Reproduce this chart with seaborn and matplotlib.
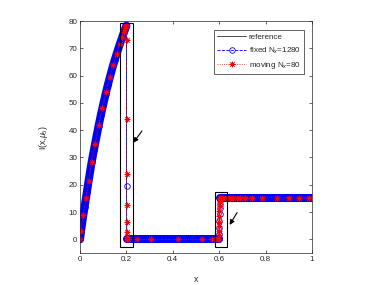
import numpy as np
import pandas as pd
import matplotlib
matplotlib.use("Agg")
import matplotlib.pyplot as plt
from matplotlib.patches import Rectangle
import seaborn as sns

# ── 데이터 ─────────────────────────────────────────────
# fixed N_x=1280 : 구간별로 나눔
fixed_ramp_x = [0.0, 0.005, 0.01, 0.02, 0.03, 0.04, 0.05, 0.06, 0.07, 0.08, 0.09, 0.10,
                0.11, 0.12, 0.13, 0.14, 0.15, 0.16, 0.17, 0.18, 0.19, 0.20]
fixed_ramp_y = [0.0, 3.2, 6.5, 12.0, 17.5, 23.0, 28.2, 32.8, 37.2, 41.5, 45.6, 49.4,
                53.1, 56.6, 59.8, 62.9, 65.8, 68.5, 71.1, 73.6, 76.0, 78.3]
fixed_drop_x = [0.2008, 0.2016]
fixed_drop_y = [19.7, 0.3]
fixed_low_x  = [0.2024, 0.22, 0.25, 0.30, 0.35, 0.40, 0.45, 0.50, 0.55, 0.58, 0.5976]
fixed_low_y  = [0.0, 0.0, 0.0, 0.0, 0.0, 0.0, 0.0, 0.0, 0.0, 0.0, 0.0]
fixed_rise_x = [0.5984, 0.5992, 0.6000, 0.6008, 0.6016, 0.6023, 0.6031, 0.6039, 0.6047]
fixed_rise_y = [0.6, 2.0, 4.3, 6.8, 9.2, 11.4, 13.1, 14.3, 15.0]
fixed_high_x = [0.6055, 0.62, 0.65, 0.70, 0.75, 0.80, 0.85, 0.90, 0.95, 1.0]
fixed_high_y = [15.3, 15.3, 15.3, 15.3, 15.3, 15.3, 15.3, 15.3, 15.3, 15.3]

# moving N_x=80
moving_x = [0.0, 0.004, 0.014, 0.026, 0.037, 0.050, 0.066, 0.080, 0.096, 0.112, 0.128,
            0.144, 0.158, 0.171, 0.181, 0.188, 0.194, 0.198, 0.200,
            0.201, 0.201, 0.201, 0.201, 0.201, 0.201, 0.201, 0.202,
            0.204, 0.208, 0.244, 0.305, 0.424, 0.528, 0.571, 0.588, 0.596,
            0.599, 0.600, 0.600, 0.600, 0.601, 0.601, 0.601, 0.602, 0.602, 0.602, 0.603,
            0.605, 0.608, 0.612, 0.618, 0.632, 0.647, 0.661, 0.675, 0.690, 0.711,
            0.740, 0.783, 0.848, 0.902, 0.946, 0.985]
moving_y = [0.3, 3.1, 8.9, 15.1, 21.5, 28.2, 35.1, 41.8, 48.0, 53.9, 59.3,
            63.9, 68.0, 71.5, 74.3, 76.1, 77.3, 78.2, 78.6,
            73.0, 44.0, 24.0, 12.7, 6.3, 2.8, 1.0, 0.2,
            0.0, 0.0, 0.0, 0.0, 0.0, 0.0, 0.0, 0.0, 0.0,
            0.1, 1.6, 3.2, 4.9, 6.5, 8.5, 10.4, 12.2, 13.6, 14.7, 15.1,
            15.3, 15.3, 15.3, 15.3, 15.3, 15.3, 15.3, 15.3, 15.3, 15.3,
            15.3, 15.3, 15.3, 15.3, 15.3, 15.3]

# reference (정확해)
ref_x = fixed_ramp_x + [0.2, 0.6, 0.6, 1.0]
ref_y = fixed_ramp_y + [0.0, 0.0, 15.3, 15.3]

# 확대 상자와 화살표
boxes  = [(0.174, -2.7, 0.053, 82.1), (0.580, -2.8, 0.055, 20.1)]
arrows = [((0.230, 35.4), (0.267, 39.7)), ((0.645, 5.3), (0.677, 9.8))]

# ── 스타일 ─────────────────────────────────────────────────
sns.set_style("ticks")
plt.rcParams['font.family'] = ['Liberation Sans', 'DejaVu Sans']
plt.rcParams['mathtext.fontset'] = 'custom'
plt.rcParams['mathtext.rm'] = 'Liberation Sans'
plt.rcParams['mathtext.it'] = 'Liberation Sans:italic'
AX_COL = "#262626"
FS = 5.8

fig = plt.figure(figsize=(3.8, 2.85), dpi=100)
ax = fig.add_axes([80 / 380, 32 / 285, 232 / 380, 232 / 285])

# 굵은 파란 띠 (촘촘한 원 마커 1280개 표현)
band = pd.concat([
    pd.DataFrame({"x": fixed_ramp_x, "y": fixed_ramp_y, "seg": 0}),
    pd.DataFrame({"x": fixed_low_x,  "y": fixed_low_y,  "seg": 1}),
    pd.DataFrame({"x": fixed_high_x, "y": fixed_high_y, "seg": 2}),
])
sns.lineplot(data=band, x="x", y="y", units="seg", estimator=None, sort=False,
             color="blue", lw=5.8, solid_capstyle="round", ax=ax, legend=False)

fixed_x = fixed_ramp_x + fixed_drop_x + fixed_low_x + fixed_rise_x + fixed_high_x
fixed_y = fixed_ramp_y + fixed_drop_y + fixed_low_y + fixed_rise_y + fixed_high_y

sns.lineplot(x=ref_x, y=ref_y, sort=False, estimator=None, color="#333333",
             lw=0.6, ax=ax, label="reference")
sns.lineplot(x=fixed_x, y=fixed_y, sort=False, estimator=None, color="blue", lw=0.6,
             linestyle="--", marker="o", markersize=4, mfc="none", mec="blue", mew=0.6,
             ax=ax, label=r"fixed N$_x$=1280")
sns.lineplot(x=moving_x, y=moving_y, sort=False, estimator=None, color="red", lw=0.6,
             linestyle=":", marker=(8, 2, 0), markersize=4, mec="red", mew=0.6,
             ax=ax, label=r"moving N$_x$=80")

for (bx, by, bw, bh) in boxes:
    ax.add_patch(Rectangle((bx, by), bw, bh, fill=False, ec="black", lw=0.8, zorder=5))
for head, tail in arrows:
    ax.annotate("", xy=head, xytext=tail,
                arrowprops=dict(arrowstyle="-|>", color="black", lw=0.8,
                                mutation_scale=7, shrinkA=0, shrinkB=0))

ax.set_xlim(0, 1)
ax.set_ylim(-5, 80)
ax.set_xticks(np.arange(0, 1.01, 0.2))
ax.set_xticklabels(["0", "0.2", "0.4", "0.6", "0.8", "1"])
ax.set_yticks(np.arange(0, 81, 10))
ax.tick_params(direction="in", top=True, right=True, length=2.5, width=0.5,
               color=AX_COL, labelcolor=AX_COL, labelsize=FS, pad=2)
for sp in ax.spines.values():
    sp.set_visible(True)
    sp.set_linewidth(0.5)
    sp.set_color(AX_COL)

ax.set_xlabel("x", fontsize=FS + 0.5, color=AX_COL)
ax.set_ylabel(r"I(x,$\mu_5$)", fontsize=FS + 0.5, color=AX_COL)
ax.xaxis.set_label_coords(0.5, -0.095)
ax.yaxis.set_label_coords(-0.13, 0.5)

leg = ax.legend(loc="upper right", bbox_to_anchor=(0.966, 0.961), borderaxespad=0,
                fontsize=FS, fancybox=False, framealpha=1, edgecolor=AX_COL,
                handlelength=3.6, handletextpad=0.3, labelspacing=0.55,
                borderpad=0.4)
leg.get_frame().set_linewidth(0.5)
for t in leg.get_texts():
    t.set_color(AX_COL)

fig.savefig("out.png", dpi=100)
